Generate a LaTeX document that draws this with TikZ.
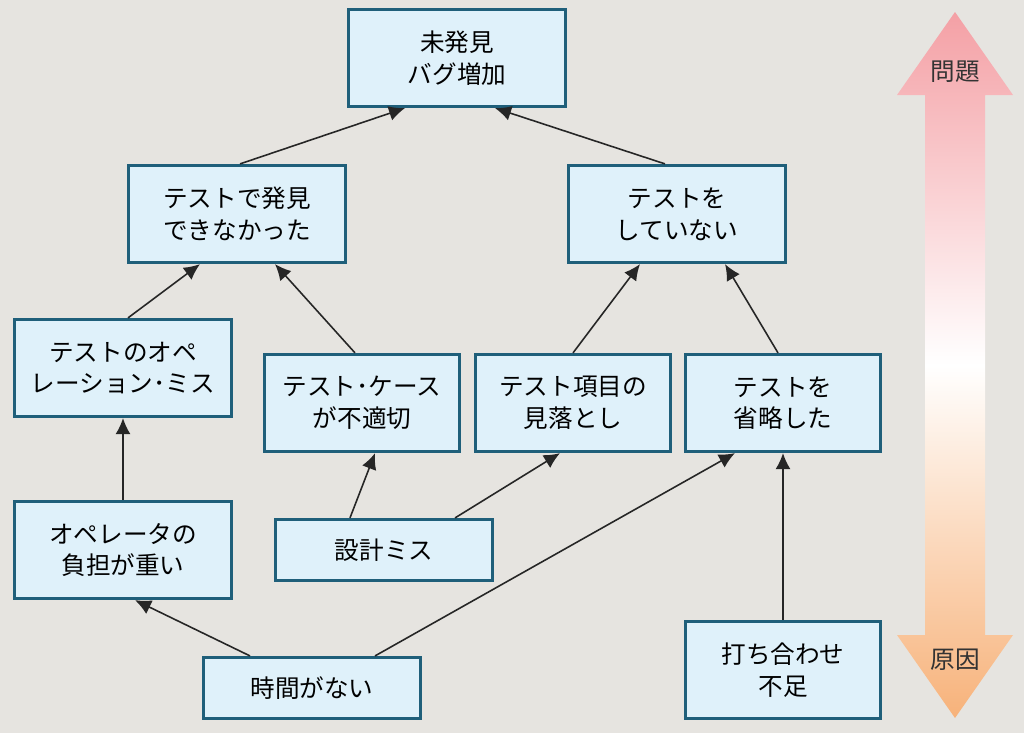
\documentclass[tikz,border=0pt]{standalone}
\usepackage{fontspec}
\setmainfont{Noto Sans CJK JP}
\usetikzlibrary{arrows.meta,positioning}
\definecolor{bgcol}{HTML}{E6E4E0}
\definecolor{boxfill}{HTML}{DFF1FA}
\definecolor{boxline}{HTML}{1F5F7A}
\definecolor{toppink}{HTML}{F4A0A5}
\definecolor{botorange}{HTML}{F7B27A}

\begin{document}
\begin{tikzpicture}[
    x=0.01cm, y=-0.01cm,
    box/.style={rectangle, draw=boxline, line width=0.9pt, fill=boxfill, minimum width=2.17cm, minimum height=0.97cm, align=center, font=\fontsize{7}{9}\selectfont, inner sep=1pt},
    narrow/.style={box, minimum width=1.95cm},
    flat/.style={box, minimum height=0.61cm},
    arrow/.style={-{Latex[length=1.6mm,width=1.5mm]}, line width=0.45pt, draw=black!85}
]

% Background
\fill[bgcol] (0,0) rectangle (1024,733);
\useasboundingbox (0,0) rectangle (1024,733);

% Problem / cause arrow
\shade[top color=toppink, bottom color=botorange, middle color=white]
    (955,12) -- (1013,95) -- (985,95) -- (985,635) -- (1013,635) -- (955,718)
    -- (897,635) -- (925,635) -- (925,95) -- (897,95) -- cycle;
\node[font=\fontsize{7}{9}\selectfont, text=black!80] (problem) at (955,72) {問題};
\node[font=\fontsize{7}{9}\selectfont, text=black!80] (cause) at (955,660) {原因};

% Top level
\node[box] (bug) at (457,58) {未発見\\バグ増加};

% Second level
\node[box] (missed) at (237,214) {テストで発見\\できなかった};
\node[box] (untested) at (677,214) {テストを\\していない};

% Third level
\node[box] (operr) at (123,368) {テストのオペ\\レーション･ミス};
\node[narrow] (badcase) at (362,403) {テスト･ケース\\が不適切};
\node[narrow] (overlook) at (573,403) {テスト項目の\\見落とし};
\node[narrow] (skipped) at (783,403) {テストを\\省略した};

% Causes
\node[box] (burden) at (123,550) {オペレータの\\負担が重い};
\node[flat] (design) at (384,550) {設計ミス};
\node[flat] (notime) at (312,688) {時間がない};
\node[narrow] (meeting) at (783,670) {打ち合わせ\\不足};

\draw[arrow] ([xshift=0.03cm]missed.north) -- ([xshift=-0.52cm]bug.south);
\draw[arrow] ([xshift=-0.12cm]untested.north) -- ([xshift=0.38cm]bug.south);
\draw[arrow] ([xshift=0.05cm]operr.north) -- ([xshift=-0.37cm]missed.south);
\draw[arrow] ([xshift=-0.07cm]badcase.north) -- ([xshift=0.38cm]missed.south);
\draw[arrow] (overlook.north) -- ([xshift=-0.37cm]untested.south);
\draw[arrow] ([xshift=-0.05cm]skipped.north) -- ([xshift=0.48cm]untested.south);
\draw[arrow] (burden) -- (operr);
\draw[arrow] ([xshift=-0.34cm]design.north) -- ([xshift=0.13cm]badcase.south);
\draw[arrow] ([xshift=0.71cm]design.north) -- ([xshift=-0.13cm]overlook.south);
\draw[arrow] ([xshift=-0.62cm]notime.north) -- ([xshift=0.12cm]burden.south);
\draw[arrow] ([xshift=0.63cm]notime.north) -- ([xshift=-0.48cm]skipped.south);
\draw[arrow] (meeting) -- (skipped);

\end{tikzpicture}
\end{document}
